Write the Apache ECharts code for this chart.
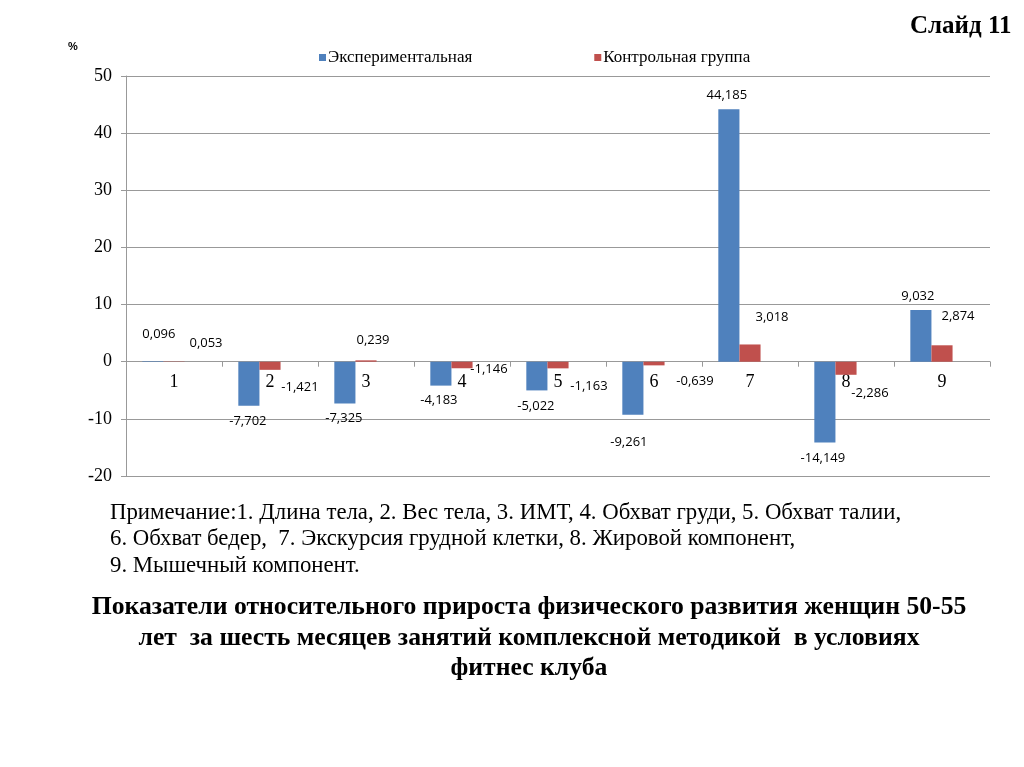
<!DOCTYPE html>
<html>
<head>
<meta charset="utf-8">
<script src="https://cdn.jsdelivr.net/npm/echarts@6/dist/echarts.min.js"></script>
<style>
html,body{margin:0;padding:0;background:#fff;}
#c{width:1024px;height:767px;}
</style>
</head>
<body>
<div id="c"></div>
<script>
var categories = ['1','2','3','4','5','6','7','8','9'];
var experimental = [0.096, -7.702, -7.325, -4.183, -5.022, -9.261, 44.185, -14.149, 9.032];
var control = [0.053, -1.421, 0.239, -1.146, -1.163, -0.639, 3.018, -2.286, 2.874];
var yTicks = { min: -20, max: 50, interval: 10 };
var seriesNames = ['Экспериментальная', 'Контрольная группа'];

// label nudges (pixels) relative to the default end-of-bar label
var expLabelShift = [[6,-15],[-1,4],[-1,3],[-2,3],[-1,4],[-4,16],[-2,-2],[-2,4],[-3,-2]];
var ctlLabelShift = [[32,-7],[30,6],[7,-9],[27,-10],[31,6],[41,4],[22,-16],[24,7],[16,-17]];

function fmt(v){ return v.toFixed(3).replace('.', ','); }
function build(vals, shifts){
  return vals.map(function(v,i){
    return {
      value: v,
      label: { position: v >= 0 ? 'top' : 'bottom', offset: shifts[i] }
    };
  });
}

var gridTop = 76, gridBottomPx = 476;
var zeroOffset = -(gridBottomPx - (gridTop + (yTicks.max / (yTicks.max - yTicks.min)) * (gridBottomPx - gridTop)));

var chart = echarts.init(document.getElementById('c'));
var labelStyle = {
  show: true, distance: 5, fontFamily: 'Open Sans', fontSize: 13, color: '#000',
  formatter: function(p){ return fmt(p.value); }
};
chart.setOption({
  animation: false,
  backgroundColor: '#fff',
  grid: { left: 126, right: 34, top: gridTop, bottom: 767 - gridBottomPx, containLabel: false },
  legend: {
    data: seriesNames,
    top: 44, left: 314,
    itemWidth: 7, itemHeight: 7, itemGap: 122,
    icon: 'rect',
    textStyle: { fontFamily: 'Liberation Serif', fontSize: 17, color: '#000', padding: [0,0,0,-3] }
  },
  xAxis: {
    type: 'category',
    data: categories,
    offset: zeroOffset,
    axisLine: { onZero: false, lineStyle: { color: '#999', width: 1 } },
    axisTick: { show: true, length: 5, lineStyle: { color: '#999' } },
    axisLabel: { fontFamily: 'Liberation Serif', fontSize: 18, color: '#000', margin: 12 },
    splitLine: { show: false }
  },
  yAxis: {
    type: 'value',
    min: yTicks.min, max: yTicks.max, interval: yTicks.interval,
    axisLine: { show: true, lineStyle: { color: '#999', width: 1 } },
    axisTick: { show: true, length: 5, lineStyle: { color: '#999' } },
    axisLabel: { fontFamily: 'Liberation Serif', fontSize: 18, color: '#000', margin: 14 },
    splitLine: { show: true, lineStyle: { color: '#999', width: 1 } }
  },
  series: [
    {
      name: seriesNames[0], type: 'bar', data: build(experimental, expLabelShift),
      itemStyle: { color: '#4F81BD' }, barGap: '0%', barCategoryGap: '34%',
      label: labelStyle
    },
    {
      name: seriesNames[1], type: 'bar', data: build(control, ctlLabelShift),
      itemStyle: { color: '#C0504D' }, barGap: '0%', barCategoryGap: '34%',
      label: labelStyle
    },
    {
      name: '_spacer', type: 'bar', data: categories.map(function(){ return null; }),
      barGap: '0%', barCategoryGap: '34%', silent: true
    }
  ],
  graphic: [
    { type: 'text', left: 910, top: 14, style: { text: 'Слайд 11', fontFamily: 'Liberation Serif', fontWeight: 'bold', fontSize: 25, fill: '#000' } },
    { type: 'text', left: 68, top: 41, style: { text: '%', fontFamily: 'Liberation Sans', fontWeight: 'bold', fontSize: 11, fill: '#000' } },
    { type: 'text', left: 110, top: 502, style: { text: 'Примечание:1. Длина тела, 2. Вес тела, 3. ИМТ, 4. Обхват груди, 5. Обхват талии,', fontFamily: 'Liberation Serif', fontSize: 22.8, fill: '#000' } },
    { type: 'text', left: 110, top: 528, style: { text: '6. Обхват бедер,  7. Экскурсия грудной клетки, 8. Жировой компонент,', fontFamily: 'Liberation Serif', fontSize: 22.8, fill: '#000' } },
    { type: 'text', left: 110, top: 555, style: { text: '9. Мышечный компонент.', fontFamily: 'Liberation Serif', fontSize: 22.8, fill: '#000' } },
    { type: 'text', x: 529, y: 607, style: { text: 'Показатели относительного прироста физического развития женщин 50-55', fontFamily: 'Liberation Serif', fontWeight: 'bold', fontSize: 25.7, fill: '#000', textAlign: 'center', textVerticalAlign: 'middle' } },
    { type: 'text', x: 529, y: 638, style: { text: 'лет  за шесть месяцев занятий комплексной методикой  в условиях', fontFamily: 'Liberation Serif', fontWeight: 'bold', fontSize: 25.7, fill: '#000', textAlign: 'center', textVerticalAlign: 'middle' } },
    { type: 'text', x: 529, y: 668, style: { text: 'фитнес клуба', fontFamily: 'Liberation Serif', fontWeight: 'bold', fontSize: 25.7, fill: '#000', textAlign: 'center', textVerticalAlign: 'middle' } }
  ]
});
</script>
</body>
</html>
